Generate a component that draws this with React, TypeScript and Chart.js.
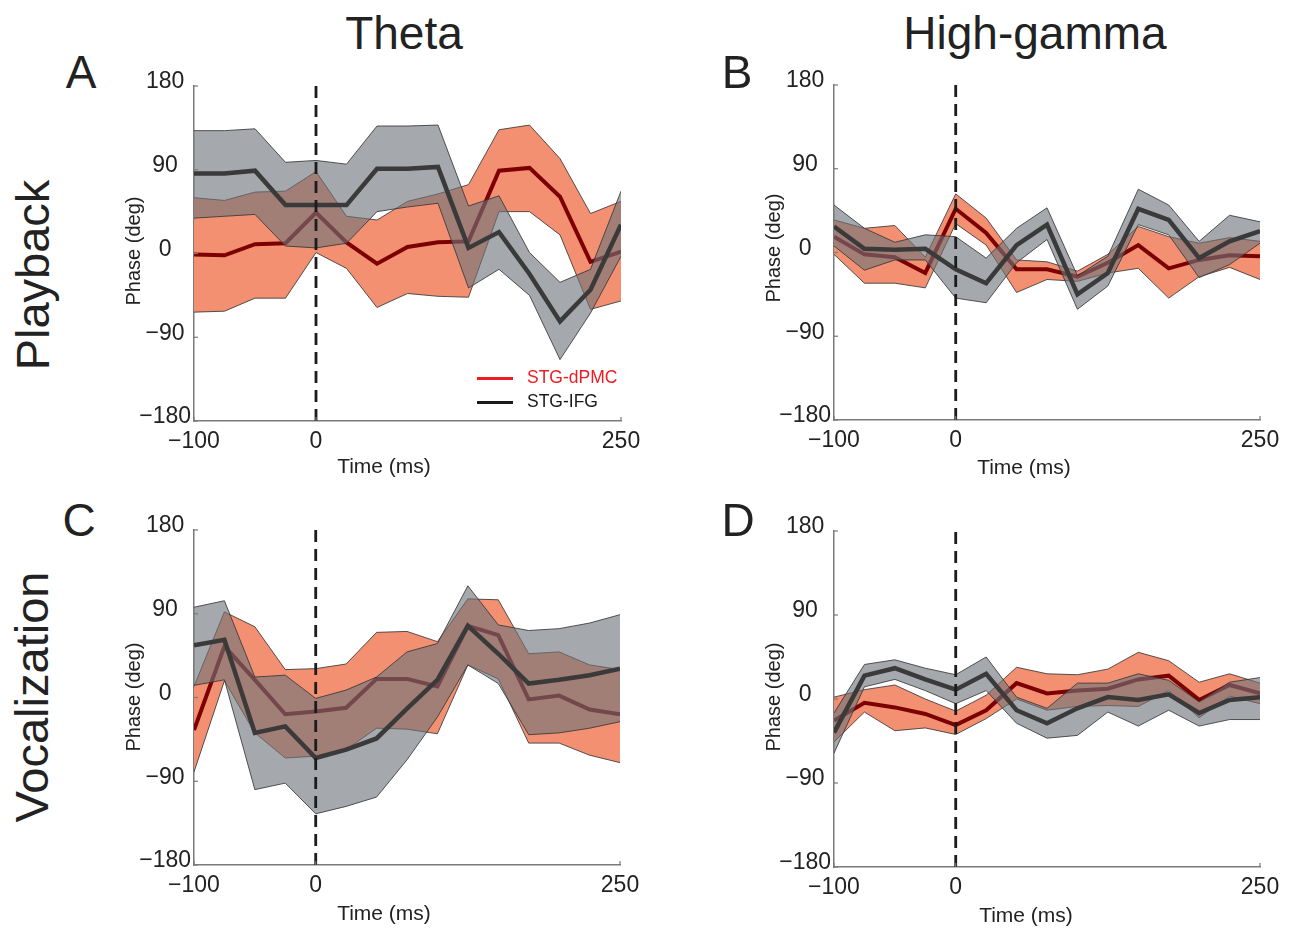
import React, { useEffect, useRef } from 'react';
import { Chart, registerables } from 'chart.js';

Chart.register(...registerables);

const FONT = "'Liberation Sans', Arial, Helvetica, sans-serif";

// shared axes
const TIMES = [-100, -75, -50, -25, 0, 25, 50, 75, 100, 125, 150, 175, 200, 225, 250];
const Y_TICKS = [-180, -90, 0, 90, 180];
const X_TICKS = [-100, 0, 250];

// Panel A (Theta, Playback)
const A_IFG_MEAN = [86, 86, 89, 52, 52, 52, 91, 91, 93, 6, 23, -22, -73, -39, 31];
const A_IFG_UPPER = [132, 132, 134, 98, 100, 96, 137, 137, 138, 51, 62, 1, -31, -17, 67];
const A_IFG_LOWER = [38, 40, 42, 8, 6, 11, 45, 50, 54, -37, -17, -45, -114, -64, -3];
const A_DPMC_MEAN = [-1, -2, 10, 11, 44, 12, -11, 7, 12, 13, 89, 92, 61, -9, 2];
const A_DPMC_UPPER = [60, 57, 66, 67, 88, 40, 36, 56, 64, 74, 133, 138, 102, 43, 56];
const A_DPMC_LOWER = [-63, -62, -48, -48, 1, -16, -58, -43, -46, -47, 45, 45, 20, -60, -51];

// Panel B (High-gamma, Playback)
const B_IFG_MEAN = [28, 4, 3, 4, -18, -33, 8, 30, -45, -22, 47, 35, -6, 12, 23];
const B_IFG_UPPER = [51, 26, 11, 19, 17, -6, 26, 48, -25, -4, 68, 51, 12, 40, 33];
const B_IFG_LOWER = [7, -19, -8, -8, -49, -54, -11, 14, -61, -36, 30, 19, -27, -13, 10];
const B_DPMC_MEAN = [17, -2, -5, -22, 47, 21, -18, -18, -26, -11, 8, -17, -8, -3, -4];
const B_DPMC_UPPER = [35, 26, 29, -5, 63, 37, -8, -10, -20, -2, 28, 17, 10, 16, 12];
const B_DPMC_LOWER = [-2, -33, -33, -38, 31, 8, -43, -29, -31, -22, -17, -49, -26, -16, -29];

// Panel C (Theta, Vocalization)
const C_IFG_MEAN = [56, 62, -38, -31, -65, -56, -44, -12, 19, 77, 47, 15, 19, 24, 31];
const C_IFG_UPPER = [97, 104, 22, 24, -1, 8, 22, 49, 58, 120, 78, 72, 74, 80, 89];
const C_IFG_LOWER = [13, 19, -99, -92, -125, -117, -107, -67, -21, 35, 15, -40, -38, -33, -26];
const C_DPMC_MEAN = [-35, 55, 19, -18, -15, -11, 20, 20, 12, 77, 67, -2, 2, -13, -18];
const C_DPMC_UPPER = [12, 92, 76, 30, 31, 36, 70, 71, 60, 106, 105, 47, 49, 35, 30];
const C_DPMC_LOWER = [-80, 18, -38, -65, -63, -56, -33, -34, -39, 35, 20, -49, -49, -62, -70];

// Panel D (High-gamma, Vocalization)
const D_IFG_MEAN = [-36, 25, 33, 21, 10, 27, -12, -26, -10, 2, -1, 5, -15, -1, 2];
const D_IFG_UPPER = [-15, 37, 42, 33, 26, 45, 2, -10, 17, 17, 27, 20, -3, 18, 23];
const D_IFG_LOWER = [-58, 13, 21, 9, -5, 9, -26, -42, -39, -14, -29, -12, -29, -22, -22];
const D_DPMC_MEAN = [-23, -4, -9, -16, -28, -12, 17, 6, 9, 11, 21, 25, -1, 15, 6];
const D_DPMC_UPPER = [2, 10, 15, 0, -13, 4, 34, 27, 26, 32, 50, 41, 18, 27, 17];
const D_DPMC_LOWER = [-46, -14, -34, -31, -38, -21, 0, -12, -8, -7, -8, 9, -20, 3, -5];

const SALMON = 'rgb(243,144,114)';
const GREY_FILL = 'rgba(110,114,121,0.62)';
const EDGE = 'rgba(55,55,55,0.85)';
const RED_LINE = '#7d0000';
const BLACK_LINE = '#3a3a3a';
const AXIS = '#7a7a7a';
const TEXT = '#222222';

const PAD_L = 90;
const PAD_T = 20;
const PAD_R = 30;
const PAD_B = 50;

type Rect = { left: number; top: number; right: number; bottom: number };
type PanelDef = {
  rect: Rect;
  ifg: [number[], number[], number[]];
  dpmc: [number[], number[], number[]];
};

const PANELS: PanelDef[] = [
  { rect: { left: 194, top: 86, right: 621, bottom: 421 }, ifg: [A_IFG_MEAN, A_IFG_UPPER, A_IFG_LOWER], dpmc: [A_DPMC_MEAN, A_DPMC_UPPER, A_DPMC_LOWER] },
  { rect: { left: 834, top: 85, right: 1260, bottom: 420 }, ifg: [B_IFG_MEAN, B_IFG_UPPER, B_IFG_LOWER], dpmc: [B_DPMC_MEAN, B_DPMC_UPPER, B_DPMC_LOWER] },
  { rect: { left: 194, top: 530, right: 620, bottom: 865 }, ifg: [C_IFG_MEAN, C_IFG_UPPER, C_IFG_LOWER], dpmc: [C_DPMC_MEAN, C_DPMC_UPPER, C_DPMC_LOWER] },
  { rect: { left: 834, top: 531, right: 1260, bottom: 867 }, ifg: [D_IFG_MEAN, D_IFG_UPPER, D_IFG_LOWER], dpmc: [D_DPMC_MEAN, D_DPMC_UPPER, D_DPMC_LOWER] },
];

const fmt = (v: number) => (v < 0 ? '\u2212' + Math.abs(v) : String(v));
const toXY = (arr: number[]) => arr.map((v, i) => ({ x: TIMES[i], y: v }));

const inwardTicks = {
  id: 'inwardTicks',
  afterDraw(chart: any) {
    const { ctx, chartArea, scales } = chart;
    ctx.save();
    ctx.strokeStyle = AXIS;
    ctx.lineWidth = 1.2;
    Y_TICKS.forEach((v) => {
      const y = scales.y.getPixelForValue(v);
      ctx.beginPath();
      ctx.moveTo(chartArea.left, y);
      ctx.lineTo(chartArea.left + 4, y);
      ctx.stroke();
    });
    X_TICKS.forEach((v) => {
      const x = scales.x.getPixelForValue(v);
      ctx.beginPath();
      ctx.moveTo(x, chartArea.bottom);
      ctx.lineTo(x, chartArea.bottom - 4);
      ctx.stroke();
    });
    ctx.restore();
  },
};

function Panel({ p }: { p: PanelDef }) {
  const ref = useRef<HTMLCanvasElement>(null);
  const w = p.rect.right - p.rect.left + PAD_L + PAD_R;
  const h = p.rect.bottom - p.rect.top + PAD_T + PAD_B;
  useEffect(() => {
    const line = (data: number[], color: string, width: number, order: number, extra: any = {}) => ({
      data: toXY(data),
      borderColor: color,
      borderWidth: width,
      pointRadius: 0,
      fill: false,
      tension: 0,
      order,
      ...extra,
    });
    const chart = new Chart(ref.current as HTMLCanvasElement, {
      type: 'line',
      data: {
        datasets: [
          {
            data: [{ x: 0, y: -180 }, { x: 0, y: 180 }],
            borderColor: '#1c1c1c',
            borderWidth: 2.8,
            borderDash: [12, 7],
            pointRadius: 0,
            fill: false,
            order: -1,
          },
          line(p.ifg[0], BLACK_LINE, 4.5, 0, { label: 'STG-IFG' }),
          line(p.ifg[1], EDGE, 1, 1, { fill: '+1', backgroundColor: GREY_FILL }),
          line(p.ifg[2], EDGE, 1, 0.5),
          line(p.dpmc[0], RED_LINE, 4, 2, { label: 'STG-dPMC' }),
          line(p.dpmc[1], EDGE, 1, 4, { fill: '+1', backgroundColor: SALMON }),
          line(p.dpmc[2], EDGE, 1, 3),
        ] as any,
      },
      options: {
        animation: false,
        responsive: false,
        maintainAspectRatio: false,
        events: [],
        layout: { padding: { left: 0, top: PAD_T, right: PAD_R, bottom: 0 } },
        plugins: { legend: { display: false }, tooltip: { enabled: false } },
        scales: {
          x: {
            type: 'linear',
            min: -100,
            max: 250,
            z: 1,
            afterBuildTicks: (s: any) => {
              s.ticks = X_TICKS.map((v) => ({ value: v }));
            },
            afterFit: (s: any) => {
              s.height = PAD_B;
            },
            grid: { display: false, drawTicks: false },
            border: { display: true, color: AXIS, width: 1.5 },
            ticks: {
              font: { family: FONT, size: 23 },
              color: TEXT,
              padding: 7,
              maxRotation: 0,
              autoSkip: false,
              callback: (v: any) => fmt(Number(v)),
            },
          },
          y: {
            type: 'linear',
            min: -180,
            max: 180,
            z: 1,
            afterBuildTicks: (s: any) => {
              s.ticks = Y_TICKS.map((v) => ({ value: v }));
            },
            afterFit: (s: any) => {
              s.width = PAD_L;
            },
            grid: { display: false, drawTicks: false },
            border: { display: true, color: AXIS, width: 1.5 },
            ticks: {
              font: { family: FONT, size: 23 },
              color: TEXT,
              padding: 3,
              crossAlign: 'center',
              labelOffset: -4,
              autoSkip: false,
              callback: (v: any) => fmt(Number(v)),
            },
          },
        },
      } as any,
      plugins: [inwardTicks],
    });
    return () => chart.destroy();
  }, [p]);
  return (
    <canvas
      ref={ref}
      width={w}
      height={h}
      style={{
        position: 'absolute',
        left: p.rect.left - PAD_L,
        top: p.rect.top - PAD_T,
        width: w,
        height: h,
        display: 'block',
      }}
    />
  );
}

function Txt({ x, y, size, color = TEXT, rotate = 0, children }: any) {
  return (
    <div
      style={{
        position: 'absolute',
        left: x,
        top: y,
        transform: `translate(-50%, -50%) rotate(${rotate}deg)`,
        fontSize: size,
        lineHeight: 1,
        whiteSpace: 'nowrap',
        color,
        fontFamily: FONT,
      }}
    >
      {children}
    </div>
  );
}

function LegendRow({ x, y, color, textColor, label }: any) {
  return (
    <div style={{ position: 'absolute', left: x, top: y - 10, height: 20, display: 'flex', alignItems: 'center', fontFamily: FONT }}>
      <div style={{ width: 36, height: 3, background: color }} />
      <div style={{ marginLeft: 14, fontSize: 17.5, lineHeight: 1, color: textColor, whiteSpace: 'nowrap' }}>{label}</div>
    </div>
  );
}

export default function App() {
  return (
    <div style={{ position: 'absolute', left: 0, top: 0, width: 1293, height: 929, background: '#fff', overflow: 'hidden' }}>
      {PANELS.map((p, i) => (
        <Panel key={i} p={p} />
      ))}
      <Txt x={404} y={33} size={46}>Theta</Txt>
      <Txt x={1035} y={33} size={46}>High-gamma</Txt>
      <Txt x={81} y={72} size={46}>A</Txt>
      <Txt x={737} y={72} size={46}>B</Txt>
      <Txt x={79} y={520} size={46}>C</Txt>
      <Txt x={738} y={520} size={46}>D</Txt>
      <Txt x={32} y={275} size={47} rotate={-90}>Playback</Txt>
      <Txt x={31} y={697} size={47} rotate={-90}>Vocalization</Txt>
      <Txt x={133} y={251} size={20} rotate={-90}>Phase (deg)</Txt>
      <Txt x={773} y={248} size={20} rotate={-90}>Phase (deg)</Txt>
      <Txt x={133} y={697} size={20} rotate={-90}>Phase (deg)</Txt>
      <Txt x={773} y={697} size={20} rotate={-90}>Phase (deg)</Txt>
      <Txt x={384} y={465} size={21}>Time (ms)</Txt>
      <Txt x={1024} y={466} size={21}>Time (ms)</Txt>
      <Txt x={384} y={912} size={21}>Time (ms)</Txt>
      <Txt x={1026} y={914} size={21}>Time (ms)</Txt>
      <LegendRow x={477} y={378} color="#ed1c24" textColor="#ed1c24" label="STG-dPMC" />
      <LegendRow x={477} y={402} color="#1a1a1a" textColor="#1a1a1a" label="STG-IFG" />
    </div>
  );
}
